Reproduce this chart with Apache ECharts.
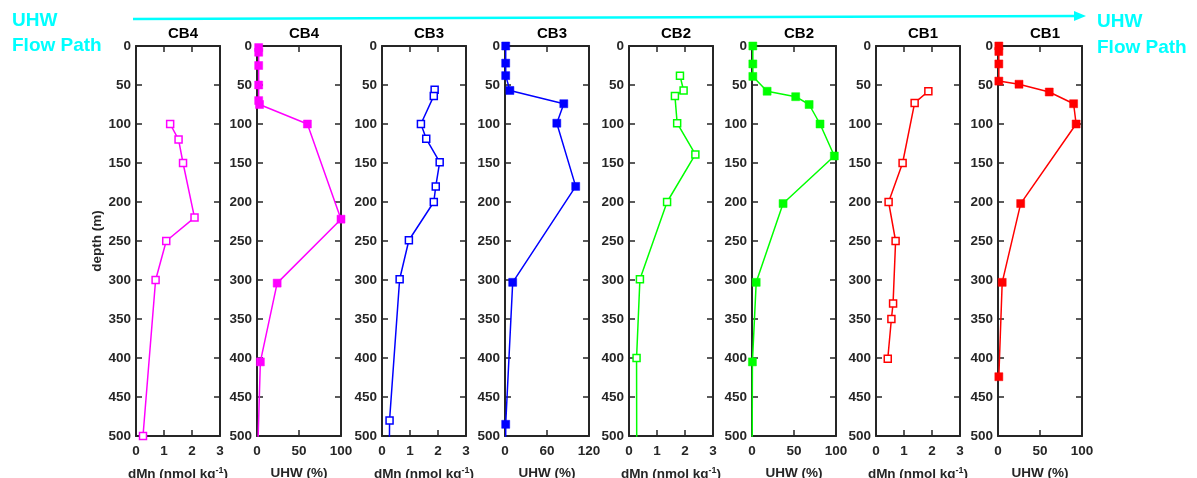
<!DOCTYPE html>
<html>
<head>
<meta charset="utf-8">
<script src="https://cdn.jsdelivr.net/npm/echarts@6/dist/echarts.min.js"></script>
<style>
  html, body { margin: 0; padding: 0; background: #fff; }
  #chart { width: 1197px; height: 478px; }
</style>
</head>
<body>
<div id="chart"></div>
<script>
// Stations along the UHW flow path, each shown as a dMn panel and a UHW fraction panel
const stations = ['CB4', 'CB3', 'CB2', 'CB1'];
const stationColors = ['#ff00ff', '#0000ff', '#00ff00', '#ff0000'];

// Depth axis (m)
const depthTicks = [0, 50, 100, 150, 200, 250, 300, 350, 400, 450, 500];

// Dissolved Mn (nmol kg-1) profiles: depth (m) and value
const cb4MnDepth = [100, 120, 150, 220, 250, 300, 500];
const cb4MnValue = [1.22, 1.52, 1.68, 2.09, 1.08, 0.70, 0.25];
const cb3MnDepth = [56, 64, 100, 119, 149, 180, 200, 249, 299, 480, 600];
const cb3MnValue = [1.88, 1.85, 1.39, 1.58, 2.06, 1.92, 1.85, 0.96, 0.63, 0.27, 0.25];
const cb2MnDepth = [38, 57, 64, 99, 139, 200, 299, 400, 600];
const cb2MnValue = [1.82, 1.95, 1.64, 1.72, 2.37, 1.36, 0.39, 0.27, 0.28];
const cb1MnDepth = [58, 73, 150, 200, 250, 330, 350, 401];
const cb1MnValue = [1.87, 1.38, 0.95, 0.45, 0.70, 0.61, 0.55, 0.42];

// UHW fraction (%) profiles: depth (m) and value
const cb4UhwDepth = [2, 8, 25, 50, 70, 75, 100, 222, 304, 405, 550];
const cb4UhwValue = [2, 2, 2, 2, 2, 3, 60, 100, 24, 4, 0];
const cb3UhwDepth = [0, 22, 38, 57, 74, 99, 180, 303, 485, 600];
const cb3UhwValue = [1, 1, 1, 7, 84, 74, 101, 11, 1, 1];
const cb2UhwDepth = [0, 23, 39, 58, 65, 75, 100, 141, 202, 303, 405, 600];
const cb2UhwValue = [1, 1, 1, 18, 52, 68, 81, 98, 37, 5, 0.5, 0];
const cb1UhwDepth = [0, 7, 23, 45, 49, 59, 74, 100, 202, 303, 424];
const cb1UhwValue = [1, 1, 1, 1, 25, 61, 90, 93, 27, 5, 1];

// x-axis ranges and tick spacing per panel type
const mnAxis = { max: 3, interval: 1 };
const uhwAxes = [
  { max: 100, interval: 50 },
  { max: 120, interval: 60 },
  { max: 100, interval: 50 },
  { max: 100, interval: 50 }
];

const profiles = [
  { title: 'CB4', kind: 'mn', depth: cb4MnDepth, value: cb4MnValue, color: 0 },
  { title: 'CB4', kind: 'uhw', depth: cb4UhwDepth, value: cb4UhwValue, color: 0, axis: 0 },
  { title: 'CB3', kind: 'mn', depth: cb3MnDepth, value: cb3MnValue, color: 1 },
  { title: 'CB3', kind: 'uhw', depth: cb3UhwDepth, value: cb3UhwValue, color: 1, axis: 1 },
  { title: 'CB2', kind: 'mn', depth: cb2MnDepth, value: cb2MnValue, color: 2 },
  { title: 'CB2', kind: 'uhw', depth: cb2UhwDepth, value: cb2UhwValue, color: 2, axis: 2 },
  { title: 'CB1', kind: 'mn', depth: cb1MnDepth, value: cb1MnValue, color: 3 },
  { title: 'CB1', kind: 'uhw', depth: cb1UhwDepth, value: cb1UhwValue, color: 3, axis: 3 }
];

// Layout of the eight panels
const panelLefts = [136, 257, 382, 505, 629, 752, 876, 998];
const panelTop = 46, panelW = 84, panelH = 390;

const FONT = 'Liberation Sans, Arial, sans-serif';
const AXIS_COLOR = '#262626';
const flowColor = '#00ffff';

const grids = [], xAxes = [], yAxes = [], series = [], titles = [];

profiles.forEach((p, i) => {
  grids.push({
    left: panelLefts[i], top: panelTop, width: panelW, height: panelH,
    containLabel: false, outerBoundsMode: 'none'
  });
  const ax = p.kind === 'mn' ? mnAxis : uhwAxes[p.axis];
  const lineStyle = { color: AXIS_COLOR, width: 2 };
  const tick = { show: true, inside: true, length: 6, lineStyle: { color: AXIS_COLOR, width: 1.5 } };
  const xName = p.kind === 'mn'
    ? '{a|dMn (nmol kg}{s|-1}{a|)}'
    : '{a|UHW (%)}';
  xAxes.push({
    gridIndex: i, type: 'value', position: 'bottom', min: 0, max: ax.max, interval: ax.interval,
    axisLine: { show: true, onZero: false, lineStyle },
    axisTick: tick, splitLine: { show: false },
    axisLabel: { color: AXIS_COLOR, fontFamily: FONT, fontWeight: 'bold', fontSize: 13.5, margin: 8 },
    name: xName, nameLocation: 'middle', nameGap: 30,
    nameTextStyle: {
      rich: {
        a: { fontFamily: FONT, fontWeight: 'bold', fontSize: 13.5, color: AXIS_COLOR },
        s: { fontFamily: FONT, fontWeight: 'bold', fontSize: 9, color: AXIS_COLOR, padding: [0, 0, 8, 0] }
      }
    }
  });
  xAxes.push({
    gridIndex: i, type: 'value', position: 'top', min: 0, max: ax.max, interval: ax.interval,
    axisLine: { show: true, onZero: false, lineStyle },
    axisTick: tick, axisLabel: { show: false }, splitLine: { show: false }
  });
  yAxes.push({
    gridIndex: i, type: 'value', position: 'left', inverse: true,
    min: depthTicks[0], max: depthTicks[depthTicks.length - 1], interval: depthTicks[1] - depthTicks[0],
    axisLine: { show: true, onZero: false, lineStyle },
    axisTick: tick, splitLine: { show: false },
    axisLabel: { color: AXIS_COLOR, fontFamily: FONT, fontWeight: 'bold', fontSize: 13.5, margin: 5 },
    name: i === 0 ? 'depth (m)' : '', nameLocation: 'middle', nameGap: 32, nameRotate: 90,
    nameTextStyle: { fontFamily: FONT, fontWeight: 'bold', fontSize: 13.5, color: AXIS_COLOR }
  });
  yAxes.push({
    gridIndex: i, type: 'value', position: 'right', inverse: true,
    min: depthTicks[0], max: depthTicks[depthTicks.length - 1], interval: depthTicks[1] - depthTicks[0],
    axisLine: { show: true, onZero: false, lineStyle },
    axisTick: tick, axisLabel: { show: false }, splitLine: { show: false }
  });

  const color = stationColors[p.color];
  const filled = p.kind === 'uhw';
  const data = p.depth.map((d, k) => {
    const item = { value: [p.value[k], d] };
    if (d > depthTicks[depthTicks.length - 1]) item.symbol = 'none';
    return item;
  });
  series.push({
    type: 'line', xAxisIndex: 2 * i, yAxisIndex: 2 * i, clip: true,
    data,
    symbol: 'rect',
    symbolSize: filled ? 8 : 7,
    lineStyle: { color, width: 1.5 },
    itemStyle: filled
      ? { color, borderColor: color, borderWidth: 0.5 }
      : { color: '#ffffff', borderColor: color, borderWidth: 1.5 },
    animation: false, silent: true, z: 3
  });

  titles.push({
    text: p.title, left: panelLefts[i] + panelW / 2, top: 21, textAlign: 'center',
    textStyle: { fontFamily: FONT, fontWeight: 'bold', fontSize: 15, color: '#000' }
  });
});

// Flow path arrow and its labels
const arrowStart = [133, 19], arrowEnd = [1086, 16];
const flowText = (x, y, text) => ({
  type: 'text', left: x, top: y,
  style: { text, fill: flowColor, font: 'bold 19px ' + FONT }
});

const chart = echarts.init(document.getElementById('chart'), null, { renderer: 'canvas' });
chart.setOption({
  animation: false,
  backgroundColor: '#ffffff',
  title: titles,
  grid: grids,
  xAxis: xAxes,
  yAxis: yAxes,
  series,
  graphic: [
    {
      type: 'line',
      shape: { x1: arrowStart[0], y1: arrowStart[1], x2: arrowEnd[0] - 8, y2: arrowEnd[1] + 0.07 },
      style: { stroke: flowColor, lineWidth: 2.5 }
    },
    {
      type: 'polygon',
      shape: { points: [[arrowEnd[0], arrowEnd[1]], [arrowEnd[0] - 12, arrowEnd[1] - 5], [arrowEnd[0] - 12, arrowEnd[1] + 5]] },
      style: { fill: flowColor }
    },
    flowText(12, 11, 'UHW'),
    flowText(12, 36, 'Flow Path'),
    flowText(1097, 12, 'UHW'),
    flowText(1097, 38, 'Flow Path')
  ]
});
</script>
</body>
</html>
